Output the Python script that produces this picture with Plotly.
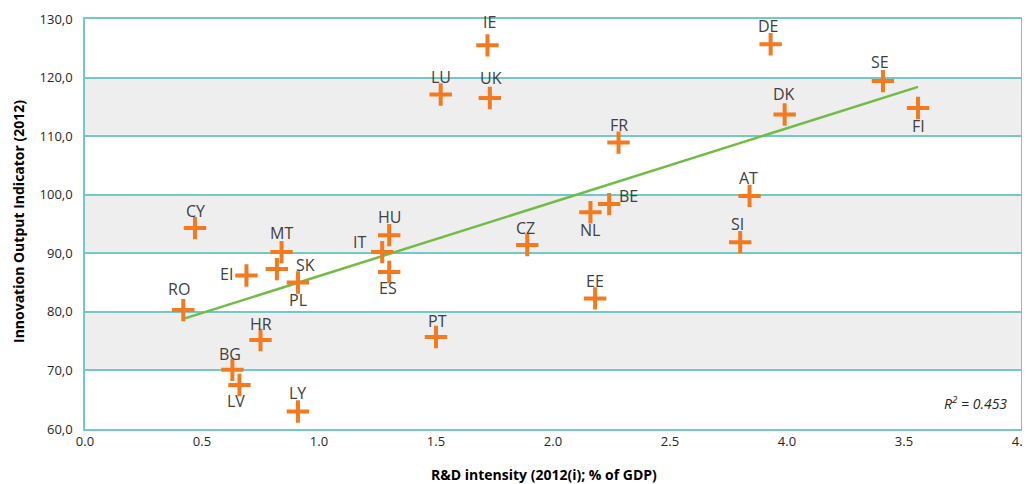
import numpy as np
import plotly.graph_objects as go

# ---- data ----
countries = ["CY", "MT", "EI", "SK", "PL", "RO", "HR", "BG", "LV", "LY",
             "IE", "LU", "UK", "FR", "BE", "NL", "HU", "IT", "ES", "CZ",
             "EE", "PT", "DE", "SE", "DK", "FI", "AT", "SI"]
rd_intensity = [0.47, 0.84, 0.69, 0.82, 0.91, 0.42, 0.75, 0.63, 0.66, 0.91,
                1.72, 1.52, 1.73, 2.28, 2.24, 2.16, 1.30, 1.27, 1.30, 1.89,
                2.18, 1.50, 2.93, 3.41, 2.99, 3.56, 2.84, 2.80]
innovation_output = [94.3, 90.2, 86.2, 87.3, 85.0, 80.3, 75.2, 70.1, 67.5, 63.0,
                     125.5, 117.1, 116.5, 108.9, 98.4, 97.0, 93.1, 90.2, 86.8, 91.4,
                     82.3, 75.7, 125.7, 119.4, 113.7, 114.8, 99.8, 91.9]
x_tickvals = [0.0, 0.5, 1.0, 1.5, 2.0, 2.5, 3.0, 3.5, 4.0]
x_ticktext = ["0.0", "0.5", "1.0", "1.5", "2.0", "2.5", "4.0", "3.5", "4.0"]
y_tickvals = [60, 70, 80, 90, 100, 110, 120, 130]
y_ticktext = ["60,0", "70,0", "80,0", "90,0", "100,0", "110,0", "120,0", "130,0"]
grey_bands = [(70, 80), (90, 100), (110, 120)]
r2_text = "R<sup>2</sup> = 0.453"
x_title = "R&D intensity (2012(i); % of GDP)"
y_title = "Innovation Output Indicator (2012)"

# ---- label offsets (style) ----
label_shift = {
    "CY": (1, 17), "MT": (0, 19), "EI": (-20, 2), "SK": (29, 4), "PL": (0, -17),
    "RO": (-4, 21), "HR": (0, 16), "BG": (-2, 16), "LV": (-3, -16), "LY": (0, 18),
    "IE": (2, 23), "LU": (0, 18), "UK": (1, 20), "FR": (0, 18), "BE": (19, 8),
    "NL": (0, -18), "HU": (0, 18), "IT": (-23, 10), "ES": (-1, -16), "CZ": (-2, 17),
    "EE": (0, 17), "PT": (1, 16), "DE": (-2, 18), "SE": (-3, 19), "DK": (-1, 20),
    "FI": (0, -18), "AT": (-1, 18), "SI": (-3, 18),
}

ORANGE = "#F47A20"
TEAL = "#72C9C8"
GREEN = "#71BC45"
FONT = "Open Sans"

fig = go.Figure()

# trend line (least squares)
xa = np.array(rd_intensity)
ya = np.array(innovation_output)
slope, intercept = np.polyfit(xa, ya, 1)
xt = np.array([xa.min(), xa.max()])
fig.add_trace(go.Scatter(x=xt, y=slope * xt + intercept, mode="lines",
                         line=dict(color=GREEN, width=2.5), hoverinfo="skip",
                         showlegend=False))

fig.add_trace(go.Scatter(
    x=rd_intensity, y=innovation_output, mode="markers",
    marker=dict(symbol="cross-thin", size=16,
                line=dict(color=ORANGE, width=4), color=ORANGE),
    text=countries, showlegend=False))

annotations = []
for c, x, y in zip(countries, rd_intensity, innovation_output):
    dx, dy = label_shift[c]
    annotations.append(dict(x=x, y=y, text=c, showarrow=False, xshift=dx, yshift=dy,
                            xanchor="center", yanchor="middle",
                            font=dict(family=FONT, size=16, color="#404040")))
annotations.append(dict(x=0.951, y=0.063, xref="paper", yref="paper", text="<i>" + r2_text + "</i>",
                        showarrow=False, xanchor="center", yanchor="middle",
                        font=dict(family=FONT, size=14, color="#262626")))
# axis titles
annotations.append(dict(x=0.5, y=0, xref="paper", yref="paper", text="<b>" + x_title + "</b>",
                        showarrow=False, xanchor="center", yanchor="middle",
                        xshift=-9, yshift=-45,
                        font=dict(family=FONT, size=14, color="#000000")))
annotations.append(dict(x=0, y=0.5, xref="paper", yref="paper", text="<b>" + y_title + "</b>",
                        showarrow=False, xanchor="center", yanchor="middle", textangle=-90,
                        xshift=-67, yshift=2,
                        font=dict(family=FONT, size=14, color="#000000")))

shapes = []
for lo, hi in grey_bands:
    shapes.append(dict(type="rect", xref="paper", yref="y", x0=0, x1=1, y0=lo, y1=hi,
                       fillcolor="#EEEEEE", line=dict(width=0), layer="below"))

fig.update_layout(
    width=1022, height=476,
    margin=dict(l=77, r=9, t=11, b=55),
    paper_bgcolor="white", plot_bgcolor="white",
    font=dict(family=FONT, color="#262626"),
    annotations=annotations, shapes=shapes,
    xaxis=dict(range=[0, 4], tickvals=x_tickvals, ticktext=x_ticktext, automargin=False,
               ticklabeloverflow="allow",
               showgrid=False, zeroline=False, showline=True, mirror=True,
               linecolor=TEAL, linewidth=1.5, ticks="",
               tickfont=dict(size=13, family=FONT, color="#262626")),
    yaxis=dict(range=[60, 130], tickvals=y_tickvals, ticktext=y_ticktext, automargin=False,
               ticklabeloverflow="allow",
               showgrid=True, gridcolor=TEAL, gridwidth=1.5, zeroline=False,
               showline=True, mirror=True, linecolor=TEAL, linewidth=1.5, ticks="",
               ticklabelstandoff=8,
               tickfont=dict(size=13, family=FONT, color="#262626")),
)

fig.write_html("out.html")
